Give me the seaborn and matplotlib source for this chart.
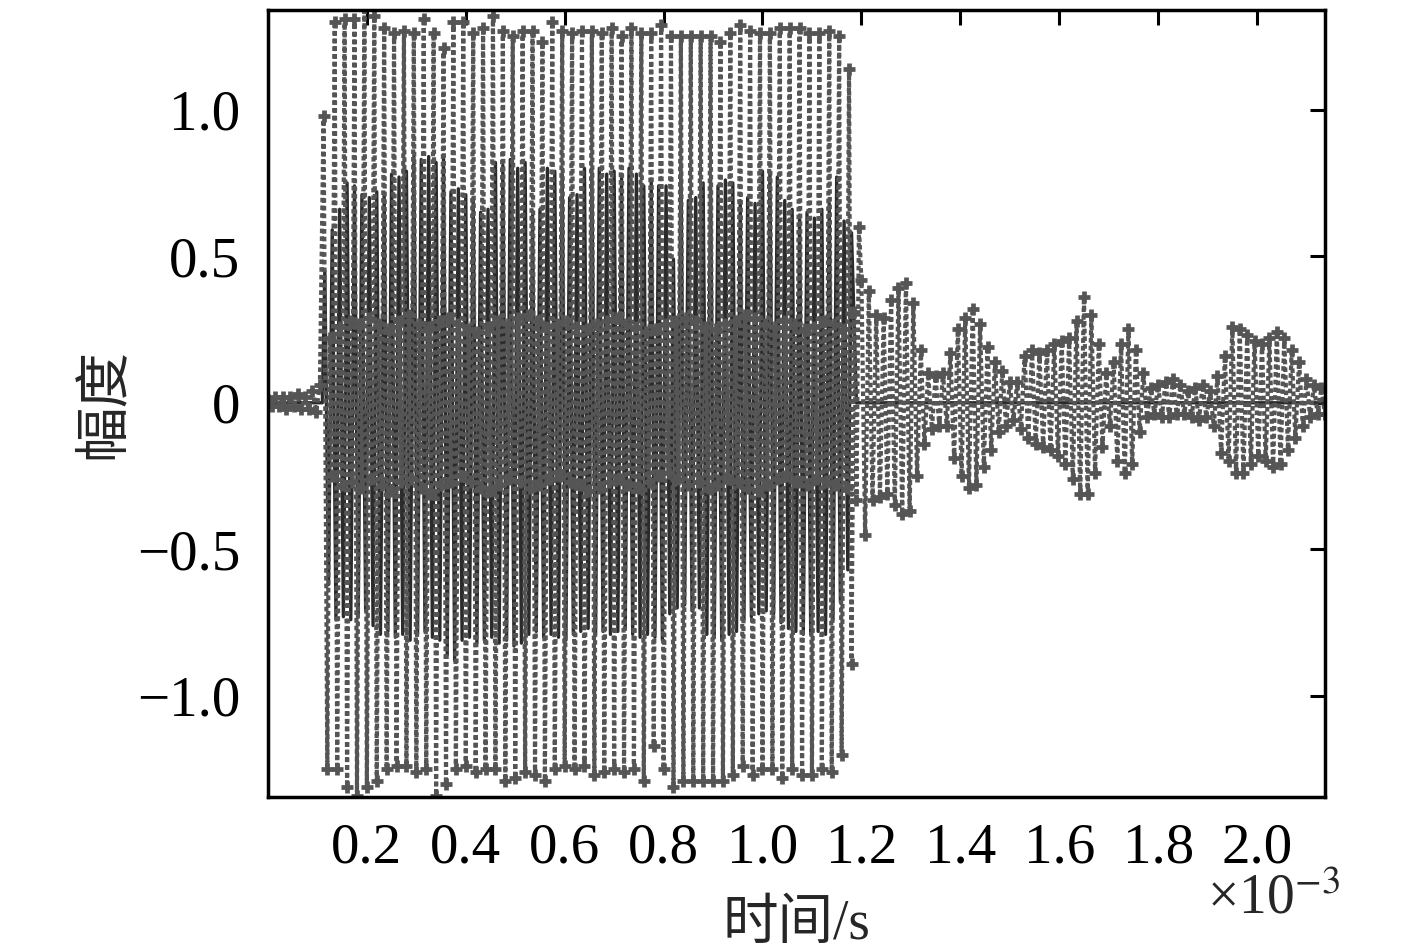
import numpy as np
import pandas as pd
import matplotlib
matplotlib.use("Agg")
import matplotlib.pyplot as plt
import seaborn as sns
from matplotlib.ticker import FixedLocator, FuncFormatter

# ---------------- values (time in ms) ----------------

# quiet part before the burst, dotted trace, step 0.0075 ms from t = 0
pre_vals = [0.01, -0.01, 0.02, -0.01, 0.02, -0.02, 0.02, -0.01,
            0.03, -0.02, 0.02, -0.02, 0.04, -0.03, 0.06, 0.98]

# burst, dotted trace: groups of (bottom spike, +mid, -mid, top spike), step 0.005 ms from 0.12 ms
burst_bottom = [-1.25, -1.25, -1.31, -1.34, -1.31, -1.29, -1.25, -1.24, -1.24, -1.26,
                -1.25, -1.34, -1.30, -1.25, -1.24, -1.26, -1.25, -1.25, -1.29, -1.28,
                -1.26, -1.27, -1.29, -1.25, -1.24, -1.25, -1.24, -1.27, -1.26, -1.25,
                -1.26, -1.25, -1.29, -1.17, -1.25, -1.31, -1.29, -1.29, -1.29, -1.29,
                -1.29, -1.27, -1.24, -1.27, -1.25, -1.25, -1.28, -1.25, -1.27, -1.27,
                -1.25, -1.26, -1.20, -0.89]
burst_mid_pos = [0.22, 0.26, 0.28, 0.27, 0.29, 0.27, 0.25, 0.28, 0.30, 0.27,
                 0.26, 0.28, 0.29, 0.27, 0.25, 0.24, 0.26, 0.28, 0.27, 0.29,
                 0.30, 0.28, 0.26, 0.27, 0.28, 0.26, 0.25, 0.27, 0.28, 0.29,
                 0.27, 0.26, 0.24, 0.25, 0.27, 0.28, 0.29, 0.28, 0.26, 0.25,
                 0.27, 0.28, 0.30, 0.29, 0.27, 0.26, 0.28, 0.27, 0.25, 0.26,
                 0.28, 0.27, 0.25, 0.31]
burst_mid_neg = [-0.25, -0.28, -0.27, -0.29, -0.26, -0.28, -0.30, -0.27, -0.26, -0.29,
                 -0.31, -0.28, -0.27, -0.25, -0.27, -0.29, -0.30, -0.28, -0.26, -0.27,
                 -0.29, -0.28, -0.26, -0.25, -0.27, -0.28, -0.30, -0.29, -0.27, -0.26,
                 -0.28, -0.29, -0.27, -0.25, -0.24, -0.26, -0.28, -0.27, -0.29, -0.28,
                 -0.26, -0.27, -0.29, -0.30, -0.28, -0.26, -0.25, -0.27, -0.28, -0.26,
                 -0.27, -0.28, -0.29, -0.33]
burst_top = [1.30, 1.31, 1.31, 1.35, 1.32, 1.28, 1.26, 1.27, 1.26, 1.31,
             1.26, 1.21, 1.30, 1.30, 1.26, 1.28, 1.32, 1.27, 1.25, 1.27,
             1.27, 1.23, 1.30, 1.27, 1.26, 1.27, 1.27, 1.26, 1.28, 1.25,
             1.28, 1.26, 1.26, 1.29, 1.25, 1.25, 1.25, 1.25, 1.25, 1.23,
             1.26, 1.29, 1.27, 1.26, 1.26, 1.28, 1.28, 1.28, 1.26, 1.26,
             1.27, 1.25, 1.14, 0.60]

# after the burst, dotted trace: alternating +/- samples, step 0.0075 ms from 1.20 ms
tail_pos = [0.42, 0.38, 0.30, 0.29, 0.35, 0.39, 0.41, 0.34, 0.18, 0.10,
            0.09, 0.10, 0.17, 0.25, 0.29, 0.32, 0.27, 0.19, 0.14, 0.11,
            0.07, 0.07, 0.16, 0.18, 0.17, 0.18, 0.20, 0.21, 0.22, 0.28,
            0.36, 0.30, 0.20, 0.10, 0.14, 0.20, 0.25, 0.18, 0.10, 0.05,
            0.06, 0.07, 0.08, 0.06, 0.04, 0.05, 0.06, 0.04, 0.09, 0.16,
            0.26, 0.25, 0.23, 0.21, 0.20, 0.22, 0.24, 0.22, 0.18, 0.14,
            0.08, 0.06, 0.05]
tail_neg = [-0.45, -0.33, -0.32, -0.31, -0.35, -0.38, -0.37, -0.25, -0.14, -0.09,
            -0.08, -0.08, -0.19, -0.25, -0.29, -0.28, -0.22, -0.16, -0.10, -0.08,
            -0.06, -0.09, -0.12, -0.14, -0.15, -0.16, -0.18, -0.21, -0.26, -0.31,
            -0.31, -0.24, -0.15, -0.08, -0.20, -0.24, -0.21, -0.10, -0.05, -0.04,
            -0.05, -0.05, -0.04, -0.04, -0.05, -0.06, -0.05, -0.08, -0.17, -0.20,
            -0.24, -0.24, -0.21, -0.18, -0.20, -0.22, -0.21, -0.16, -0.12, -0.08,
            -0.05, -0.04, -0.04]

# burst, dark solid trace: alternating up/down samples, step 0.0075 ms from 0.115 ms
solid_up = [0.45, 0.59, 0.66, 0.75, 0.74, 0.71, 0.70, 0.72, 0.71, 0.78,
            0.77, 0.79, 0.84, 0.83, 0.84, 0.82, 0.84, 0.72, 0.73, 0.71,
            0.70, 0.65, 0.66, 0.82, 0.81, 0.83, 0.80, 0.82, 0.64, 0.66,
            0.80, 0.79, 0.78, 0.70, 0.71, 0.80, 0.79, 0.80, 0.78, 0.79,
            0.77, 0.80, 0.78, 0.74, 0.76, 0.74, 0.74, 0.49, 0.82, 0.69,
            0.70, 0.75, 0.77, 0.74, 0.76, 0.75, 0.69, 0.70, 0.68, 0.79,
            0.78, 0.77, 0.69, 0.66, 0.64, 0.65, 0.63, 0.66, 0.68, 0.77,
            0.62, 0.58]
solid_down = [-0.62, -0.74, -0.73, -0.74, -0.72, -0.71, -0.76, -0.79, -0.78, -0.80,
              -0.79, -0.81, -0.79, -0.78, -0.80, -0.81, -0.86, -0.88, -0.81, -0.80,
              -0.82, -0.81, -0.80, -0.82, -0.81, -0.83, -0.82, -0.79, -0.78, -0.80,
              -0.79, -0.80, -0.81, -0.79, -0.78, -0.77, -0.79, -0.78, -0.79, -0.78,
              -0.77, -0.79, -0.80, -0.79, -0.80, -0.81, -0.72, -0.70, -0.69, -0.71,
              -0.70, -0.79, -0.80, -0.81, -0.79, -0.78, -0.74, -0.73, -0.72, -0.71,
              -0.72, -0.75, -0.77, -0.78, -0.79, -0.79, -0.78, -0.79, -0.74, -0.68,
              -0.57]
# the dark trace is flat at zero outside the burst
solid_quiet_t = [0.0, 0.11, 1.19, 2.135]
solid_quiet = [0.0, 0.0, 0.0, 0.0]

x_ticks = [0.2, 0.4, 0.6, 0.8, 1.0, 1.2, 1.4, 1.6, 1.8, 2.0]
y_ticks = [-1.0, -0.5, 0.0, 0.5, 1.0]


def sampled(t0, dt, vals):
    return [t0 + dt * i for i in range(len(vals))], list(vals)


# dotted trace
burst_seq = []
for b, mp, mn, tp in zip(burst_bottom, burst_mid_pos, burst_mid_neg, burst_top):
    burst_seq += [b, mp, mn, tp]
tail_seq = []
for p, n in zip(tail_pos, tail_neg):
    tail_seq += [p, n]

t1, v1 = sampled(0.0, 0.0075, pre_vals)
t2, v2 = sampled(0.12, 0.005, burst_seq)
t3, v3 = sampled(1.20, 0.0075, tail_seq)
dotted = pd.DataFrame({"t": t1 + t2 + t3, "amp": v1 + v2 + v3})

# dark solid trace
solid_seq = []
for i, u in enumerate(solid_up):
    solid_seq.append(u)
    if i < len(solid_down):
        solid_seq.append(solid_down[i])
ts, vs = sampled(0.115, 0.0075, solid_seq)
solid = pd.DataFrame({"t": solid_quiet_t[:2] + ts + solid_quiet_t[2:],
                      "amp": solid_quiet[:2] + vs + solid_quiet[2:]})

# ---------------- plot ----------------
sns.set_style("white")
plt.rcParams["font.family"] = ["Liberation Serif", "Noto Sans CJK SC"]
plt.rcParams["mathtext.fontset"] = "stix"
plt.rcParams["axes.unicode_minus"] = True

fig = plt.figure(figsize=(14.17, 9.52), dpi=100)
ax = fig.add_axes([0.1891, 0.1628, 0.7460, 0.8267])

sns.lineplot(data=solid, x="t", y="amp", sort=False, estimator=None, ax=ax,
             color="#2b2b2b", linewidth=2.4)
sns.lineplot(data=dotted, x="t", y="amp", sort=False, estimator=None, ax=ax,
             color="#555555", linewidth=3.0, linestyle=(0, (1.1, 0.75)),
             marker="+", markersize=9, markeredgewidth=3.4,
             markeredgecolor="#555555")

ax.set_xlim(0, 2.1375)
ax.set_ylim(-1.345, 1.34)
ax.xaxis.set_major_locator(FixedLocator(x_ticks))
ax.yaxis.set_major_locator(FixedLocator(y_ticks))
ax.xaxis.set_major_formatter(FuncFormatter(lambda v, p: f"{v:.1f}"))
ax.yaxis.set_major_formatter(FuncFormatter(
    lambda v, p: "0" if abs(v) < 1e-9 else f"{v:.1f}".replace("-", "\u2212")))

ax.tick_params(axis="both", direction="in", length=11, width=2.2,
               top=True, right=True, labelsize=41, colors="black")
ax.tick_params(axis="x", pad=18)
ax.tick_params(axis="y", pad=20)
for s in ax.spines.values():
    s.set_visible(True)
    s.set_linewidth(2.5)
    s.set_color("black")

ax.set_xlabel("时间/s", fontsize=40)
ax.set_ylabel("幅度", fontsize=40)
ax.xaxis.set_label_coords(0.5, -0.13)
ax.yaxis.set_label_coords(-0.13, 0.5)

fig.text(1340 / 1417, 1 - 914 / 952, r"×10$^{-3}$", fontsize=40,
         ha="right", va="baseline")

fig.savefig("out.png", dpi=100)
